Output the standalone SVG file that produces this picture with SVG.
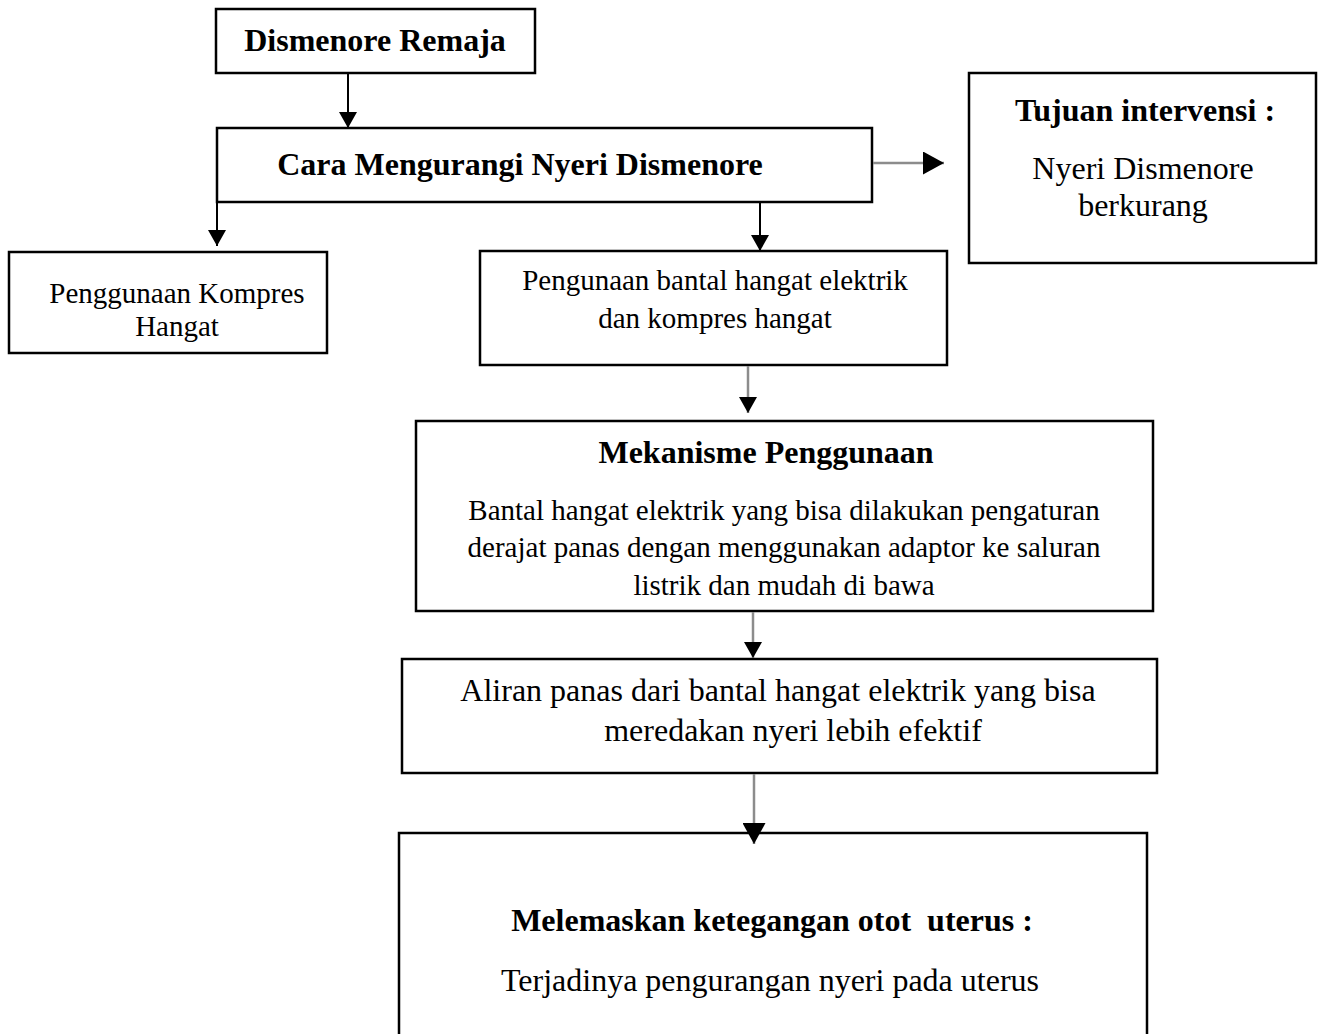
<svg xmlns="http://www.w3.org/2000/svg" width="1323" height="1034" viewBox="0 0 1323 1034">
<defs>
<style>
.box{fill:#fff;stroke:#000;stroke-width:2.5}
.t{font-family:"Liberation Serif","Times New Roman",serif;fill:#000;text-anchor:middle;white-space:pre}
.b{font-weight:bold}
.L{font-size:32px}
.S{font-size:29px}
.line{stroke:#000;stroke-width:2;fill:none}
.gray{stroke:#8c8c8c;stroke-width:2.5;fill:none}
</style>
<marker id="ah" markerWidth="16" markerHeight="18" refX="16" refY="9" orient="auto" markerUnits="userSpaceOnUse" viewBox="0 0 16 18"><path d="M0,0 L16,9 L0,18 z" fill="#000"/></marker>
<marker id="ahB" markerWidth="21" markerHeight="23" refX="21" refY="11.5" orient="auto" markerUnits="userSpaceOnUse" viewBox="0 0 21 23"><path d="M0,0 L21,11.5 L0,23 z" fill="#000"/></marker>
</defs>
<rect width="1323" height="1034" fill="#fff"/>
<g id="n1"><rect class="box" x="216" y="9" width="319" height="64"/><text class="t b L" x="375" y="51">Dismenore Remaja</text></g>
<g id="n2"><rect class="box" x="217" y="128" width="655" height="74"/><text class="t b L" x="520" y="175">Cara Mengurangi Nyeri Dismenore</text></g>
<g id="n3"><rect class="box" x="969" y="73" width="347" height="190"/><text class="t b L" x="1145" y="121">Tujuan intervensi :</text><text class="t L" x="1143" y="179">Nyeri Dismenore</text><text class="t L" x="1143" y="216">berkurang</text></g>
<g id="n4"><rect class="box" x="9" y="252" width="318" height="101"/><text class="t S" x="177" y="303">Penggunaan Kompres</text><text class="t S" x="177" y="336">Hangat</text></g>
<g id="n5"><rect class="box" x="480" y="251" width="467" height="114"/><text class="t S" x="715" y="290">Pengunaan bantal hangat elektrik</text><text class="t S" x="715" y="328">dan kompres hangat</text></g>
<g id="n6"><rect class="box" x="416" y="421" width="737" height="190"/><text class="t b L" x="766" y="463">Mekanisme Penggunaan</text><text class="t S" x="784" y="520">Bantal hangat elektrik yang bisa dilakukan pengaturan</text><text class="t S" x="784" y="557">derajat panas dengan menggunakan adaptor ke saluran</text><text class="t S" x="784" y="595">listrik dan mudah di bawa</text></g>
<g id="n7"><rect class="box" x="402" y="659" width="755" height="114"/><text class="t L" x="778" y="701">Aliran panas dari bantal hangat elektrik yang bisa</text><text class="t L" x="793" y="741">meredakan nyeri lebih efektif</text></g>
<g id="n8"><rect class="box" x="399" y="833" width="748" height="210"/><text class="t b L" x="772" y="931">Melemaskan ketegangan otot  uterus :</text><text class="t L" x="770" y="991">Terjadinya pengurangan nyeri pada uterus</text></g>
<g id="connectors">
<line class="line" x1="348" y1="73" x2="348" y2="128" marker-end="url(#ah)"/>
<line class="line" x1="217" y1="202" x2="217" y2="246" marker-end="url(#ah)"/>
<line class="line" x1="760" y1="202" x2="760" y2="251" marker-end="url(#ah)"/>
<line class="gray" x1="873" y1="163" x2="944" y2="163" marker-end="url(#ahB)"/>
<line class="gray" x1="748" y1="366" x2="748" y2="413" marker-end="url(#ah)"/>
<line class="gray" x1="753" y1="612" x2="753" y2="658" marker-end="url(#ah)"/>
<line class="gray" x1="754" y1="774" x2="754" y2="844" marker-end="url(#ahB)"/>
</g>
</svg>
